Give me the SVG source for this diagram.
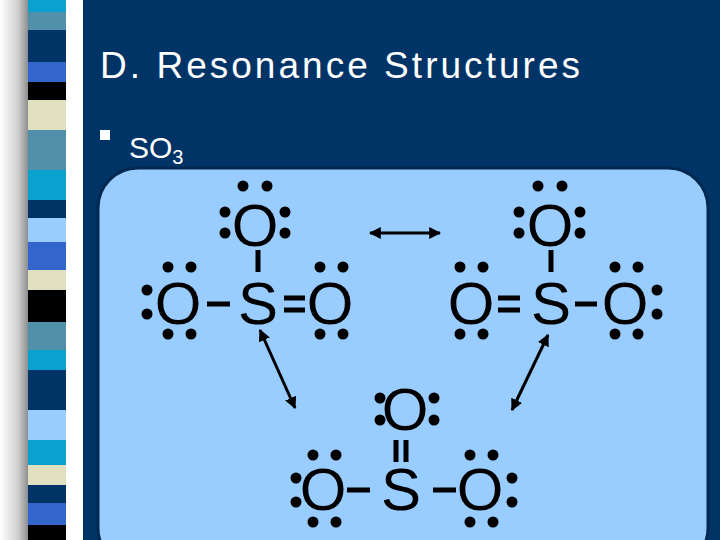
<svg xmlns="http://www.w3.org/2000/svg" width="720" height="540" viewBox="0 0 720 540">
<defs>
<linearGradient id="sh" x1="0" x2="1"><stop offset="0" stop-color="#ffffff"/><stop offset="0.6" stop-color="#d0d0d0"/><stop offset="1" stop-color="#808080"/></linearGradient>
<marker id="ah" viewBox="0 0 10 10" refX="9" refY="5" markerWidth="4" markerHeight="4" orient="auto-start-reverse"><path d="M0,0 L10,5 L0,10 Z" fill="#000"/></marker>
</defs>
<style>
.a{font-family:"Liberation Sans",Arial,sans-serif;font-size:60px;fill:#000;text-anchor:middle}
.b{stroke:#000;stroke-width:5}
.ar{stroke:#000;stroke-width:3;marker-start:url(#ah);marker-end:url(#ah)}
circle{fill:#000}
</style>
<rect width="720" height="540" fill="#ffffff"/>
<rect x="0" y="0" width="30" height="540" fill="url(#sh)"/>
<g>
<rect x="28" y="0" width="38" height="12" fill="#0aa0d0"/>
<rect x="28" y="12" width="38" height="18" fill="#5090a8"/>
<rect x="28" y="30" width="38" height="32" fill="#003366"/>
<rect x="28" y="62" width="38" height="20" fill="#3366cc"/>
<rect x="28" y="82" width="38" height="18" fill="#000"/>
<rect x="28" y="100" width="38" height="30" fill="#e0e0c0"/>
<rect x="28" y="130" width="38" height="40" fill="#5090a8"/>
<rect x="28" y="170" width="38" height="30" fill="#0aa0d0"/>
<rect x="28" y="200" width="38" height="18" fill="#003366"/>
<rect x="28" y="218" width="38" height="24" fill="#99ccff"/>
<rect x="28" y="242" width="38" height="28" fill="#3366cc"/>
<rect x="28" y="270" width="38" height="20" fill="#e0e0c0"/>
<rect x="28" y="290" width="38" height="32" fill="#000"/>
<rect x="28" y="322" width="38" height="28" fill="#5090a8"/>
<rect x="28" y="350" width="38" height="20" fill="#0aa0d0"/>
<rect x="28" y="370" width="38" height="40" fill="#003366"/>
<rect x="28" y="410" width="38" height="30" fill="#99ccff"/>
<rect x="28" y="440" width="38" height="25" fill="#0aa0d0"/>
<rect x="28" y="465" width="38" height="20" fill="#e0e0c0"/>
<rect x="28" y="485" width="38" height="18" fill="#003366"/>
<rect x="28" y="503" width="38" height="22" fill="#3366cc"/>
<rect x="28" y="525" width="38" height="15" fill="#000"/>
</g>
<rect x="83" y="0" width="637" height="540" fill="#003366"/>
<text x="100" y="78" font-family="Liberation Sans,Arial,sans-serif" font-size="37" fill="#fff" textLength="480">D. Resonance Structures</text>
<rect x="100" y="130" width="10" height="10" fill="#fff"/>
<text x="129" y="158" font-family="Liberation Sans,Arial,sans-serif" font-size="30" fill="#fff">SO<tspan font-size="20" dy="6">3</tspan></text>
<rect x="98" y="168" width="610" height="400" rx="40" fill="#99ccff" stroke="#002850" stroke-width="3"/>
<g id="s1">
<text class="a" x="255" y="246">O</text><text class="a" x="258" y="324">S</text>
<text class="a" x="178" y="324">O</text><text class="a" x="330" y="324">O</text>
<line class="b" x1="258" y1="250" x2="258" y2="272"/>
<line class="b" x1="207" y1="304" x2="230" y2="304"/>
<line class="b" x1="284" y1="298" x2="305" y2="298"/><line class="b" x1="284" y1="310" x2="305" y2="310"/>
<circle cx="243" cy="186" r="5.5"/><circle cx="267" cy="186" r="5.5"/><circle cx="225" cy="212" r="5.5"/><circle cx="225" cy="233" r="5.5"/><circle cx="285" cy="212" r="5.5"/><circle cx="285" cy="233" r="5.5"/>
<circle cx="168" cy="267" r="5.5"/><circle cx="191" cy="267" r="5.5"/><circle cx="147" cy="290" r="5.5"/><circle cx="147" cy="314" r="5.5"/><circle cx="168" cy="334" r="5.5"/><circle cx="191" cy="334" r="5.5"/>
<circle cx="320" cy="267" r="5.5"/><circle cx="343" cy="267" r="5.5"/><circle cx="320" cy="334" r="5.5"/><circle cx="343" cy="334" r="5.5"/>
</g>
<g id="s2">
<text class="a" x="550" y="246">O</text><text class="a" x="551" y="324">S</text>
<text class="a" x="471" y="324">O</text><text class="a" x="625" y="324">O</text>
<line class="b" x1="551" y1="250" x2="551" y2="272"/>
<line class="b" x1="498" y1="298" x2="520" y2="298"/><line class="b" x1="498" y1="310" x2="520" y2="310"/>
<line class="b" x1="575" y1="304" x2="597" y2="304"/>
<circle cx="538" cy="186" r="5.5"/><circle cx="562" cy="186" r="5.5"/><circle cx="519" cy="212" r="5.5"/><circle cx="519" cy="233" r="5.5"/><circle cx="580" cy="212" r="5.5"/><circle cx="580" cy="233" r="5.5"/>
<circle cx="460" cy="267" r="5.5"/><circle cx="483" cy="267" r="5.5"/><circle cx="460" cy="334" r="5.5"/><circle cx="483" cy="334" r="5.5"/>
<circle cx="615" cy="267" r="5.5"/><circle cx="638" cy="267" r="5.5"/><circle cx="657" cy="290" r="5.5"/><circle cx="657" cy="314" r="5.5"/><circle cx="615" cy="334" r="5.5"/><circle cx="638" cy="334" r="5.5"/>
</g>
<g id="s3">
<text class="a" x="405" y="430">O</text><text class="a" x="401" y="510">S</text>
<text class="a" x="323" y="510">O</text><text class="a" x="480" y="510">O</text>
<line class="b" x1="396" y1="440" x2="396" y2="462"/><line class="b" x1="406" y1="440" x2="406" y2="462"/>
<line class="b" x1="347" y1="490" x2="370" y2="490"/><line class="b" x1="433" y1="490" x2="456" y2="490"/>
<circle cx="380" cy="398" r="5.5"/><circle cx="380" cy="420" r="5.5"/><circle cx="434" cy="398" r="5.5"/><circle cx="434" cy="420" r="5.5"/>
<circle cx="313" cy="455" r="5.5"/><circle cx="336" cy="455" r="5.5"/><circle cx="296" cy="478" r="5.5"/><circle cx="296" cy="502" r="5.5"/><circle cx="313" cy="522" r="5.5"/><circle cx="336" cy="522" r="5.5"/>
<circle cx="470" cy="455" r="5.5"/><circle cx="493" cy="455" r="5.5"/><circle cx="512" cy="478" r="5.5"/><circle cx="512" cy="502" r="5.5"/><circle cx="470" cy="522" r="5.5"/><circle cx="493" cy="522" r="5.5"/>
</g>
<g id="connectors">
<line class="ar" x1="370" y1="233" x2="440" y2="233"/>
<line class="ar" x1="260" y1="330" x2="295" y2="408"/>
<line class="ar" x1="548" y1="335" x2="512" y2="410"/>
</g>
</svg>
